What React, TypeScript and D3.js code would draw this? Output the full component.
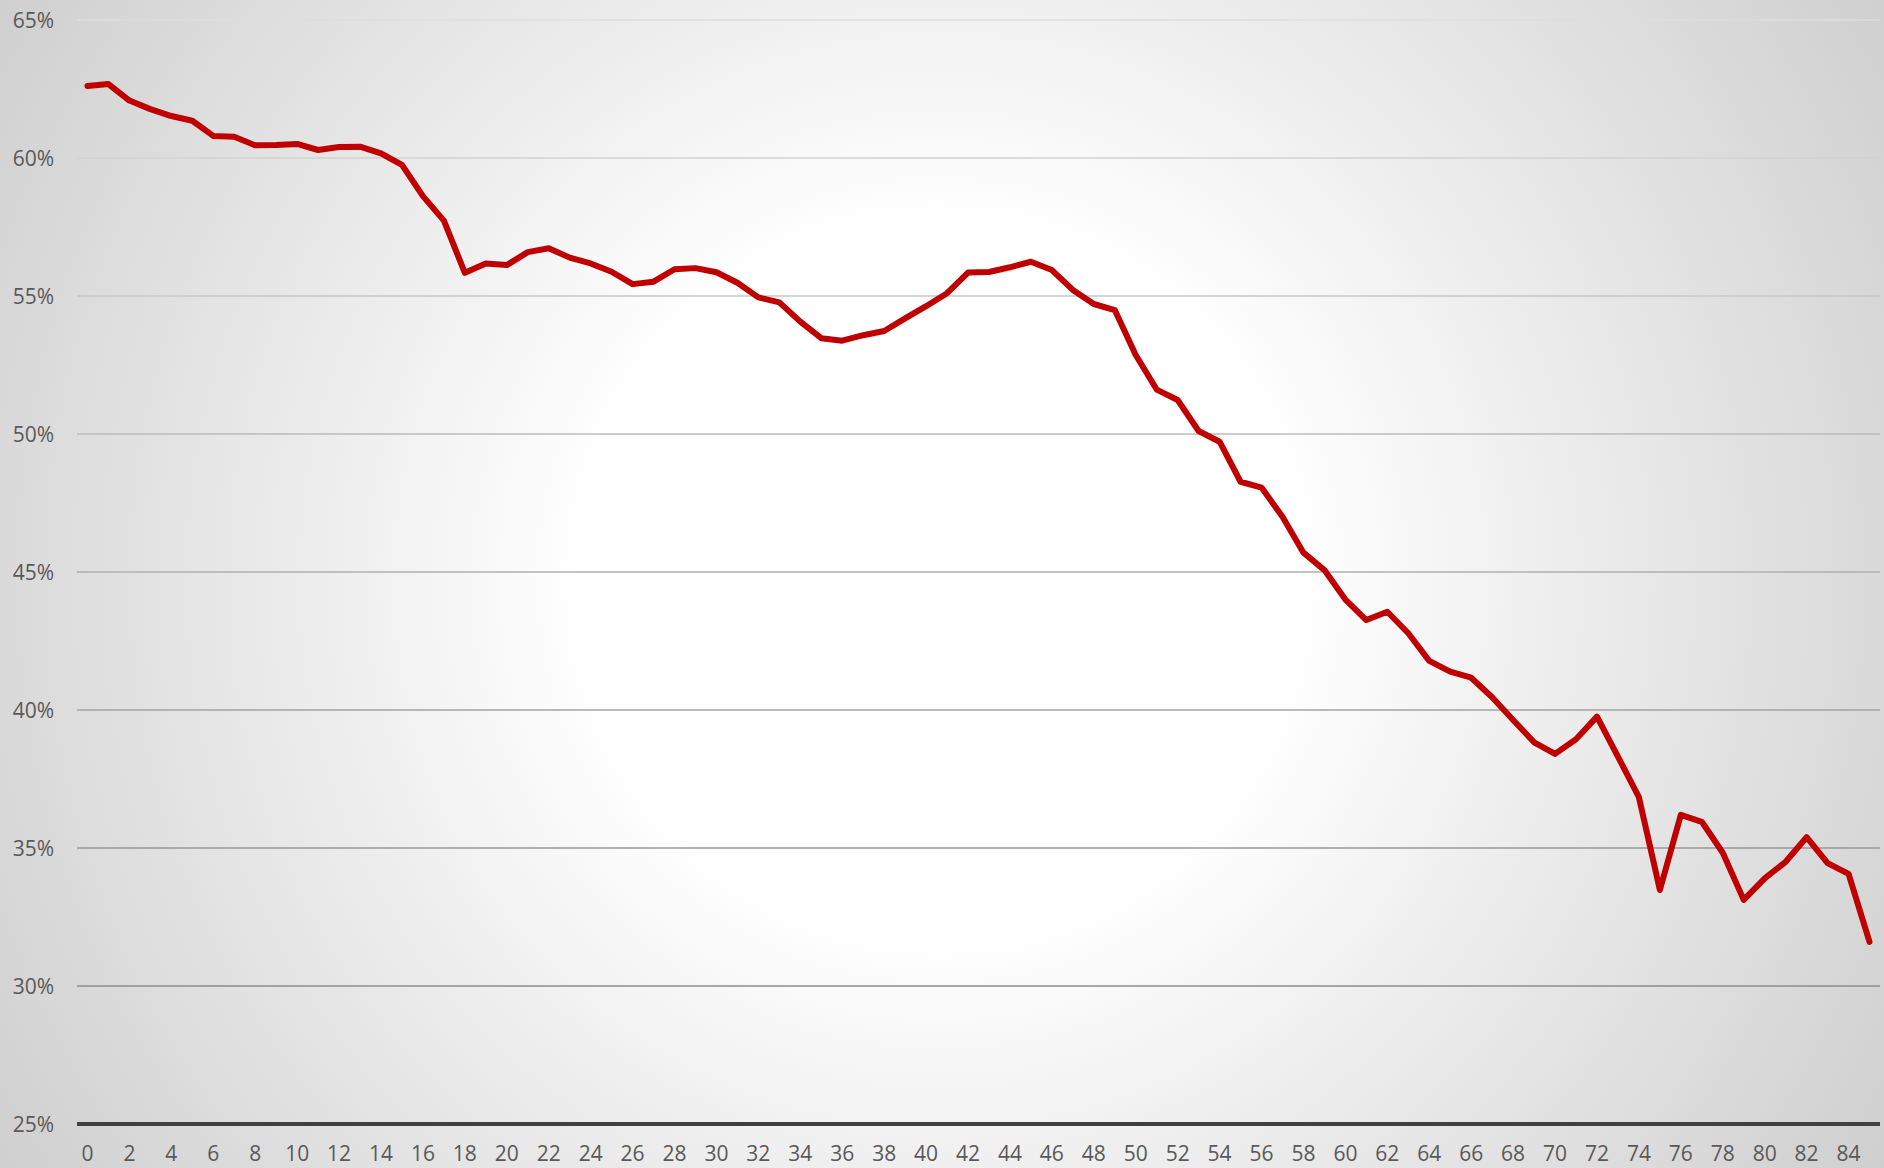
import React from "react";
import * as d3 from "d3";

const categories: number[] = Array.from({ length: 86 }, (_, i) => i);

const values: number[] = [
  62.61, 62.68, 62.08, 61.77, 61.52, 61.35, 60.8, 60.77, 60.46, 60.47,
  60.51, 60.29, 60.4, 60.41, 60.17, 59.75, 58.62, 57.73, 55.84, 56.18,
  56.12, 56.59, 56.73, 56.39, 56.18, 55.88, 55.43, 55.52, 55.97, 56.01,
  55.86, 55.48, 54.95, 54.77, 54.07, 53.47, 53.38, 53.58, 53.73, 54.19,
  54.63, 55.1, 55.85, 55.87, 56.04, 56.24, 55.94, 55.22, 54.71, 54.49,
  52.86, 51.61, 51.23, 50.11, 49.72, 48.27, 48.06, 47.0, 45.7, 45.07,
  44.0, 43.26, 43.56, 42.78, 41.78, 41.39, 41.17, 40.46, 39.64, 38.83,
  38.41, 38.94, 39.76, 38.31, 36.84, 33.48, 36.2, 35.95, 34.83, 33.12,
  33.9, 34.5, 35.39, 34.45, 34.06, 31.6,
];

const yTicks: number[] = [25, 30, 35, 40, 45, 50, 55, 60, 65];
const xTickLabels: number[] = categories.filter((c) => c % 2 === 0);

const W = 1884;
const H = 1168;
const left = 77;
const right = 1880;
const top = 20;
const bottom = 1124;

export default function App() {
  const x = d3
    .scaleBand<number>()
    .domain(categories)
    .range([left, right])
    .padding(0);
  const cx = (c: number) => (x(c) as number) + x.bandwidth() / 2;
  const y = d3.scaleLinear().domain([25, 65]).range([bottom, top]);

  const line = d3
    .line<number>()
    .x((_, i) => cx(categories[i]))
    .y((d) => y(d));

  const gridColor = d3
    .scaleLinear<string>()
    .domain([65, 30])
    .range(["#dedede", "#8c8c8c"])
    .interpolate(d3.interpolateRgb);

  const font = "'Segoe UI', 'Open Sans', 'Noto Sans', sans-serif";

  return (
    <svg
      width={W}
      height={H}
      style={{ position: "absolute", left: 0, top: 0, display: "block" }}
    >
      <defs>
        <radialGradient id="bg" gradientUnits="userSpaceOnUse" cx={940} cy={580} r={1110}>
          <stop offset="0" stopColor="#ffffff" />
          <stop offset="0.32" stopColor="#ffffff" />
          <stop offset="0.55" stopColor="#eeeeee" />
          <stop offset="1" stopColor="#cfcfcf" />
        </radialGradient>
      </defs>
      <rect x={0} y={0} width={W} height={H} fill="url(#bg)" />

      {yTicks
        .filter((t) => t !== 25)
        .map((t) => (
          <line
            key={"g" + t}
            x1={left}
            x2={right}
            y1={y(t)}
            y2={y(t)}
            stroke={gridColor(t)}
            strokeWidth={1.5}
          />
        ))}

      <line x1={left} x2={right} y1={y(25)} y2={y(25)} stroke="#404040" strokeWidth={4} />

      {yTicks.map((t) => (
        <text
          key={"yl" + t}
          x={54}
          y={y(t)}
          textAnchor="end"
          dominantBaseline="central"
          fontFamily={font}
          fontSize={21}
          fill="#595959"
        >
          {t + "%"}
        </text>
      ))}

      {xTickLabels.map((c) => (
        <text
          key={"xl" + c}
          x={cx(c)}
          y={1153}
          textAnchor="middle"
          dominantBaseline="central"
          fontFamily={font}
          fontSize={21}
          fill="#595959"
        >
          {c}
        </text>
      ))}

      <path
        d={line(values) || ""}
        fill="none"
        stroke="#C00000"
        strokeWidth={6}
        strokeLinejoin="round"
        strokeLinecap="round"
      />
    </svg>
  );
}
